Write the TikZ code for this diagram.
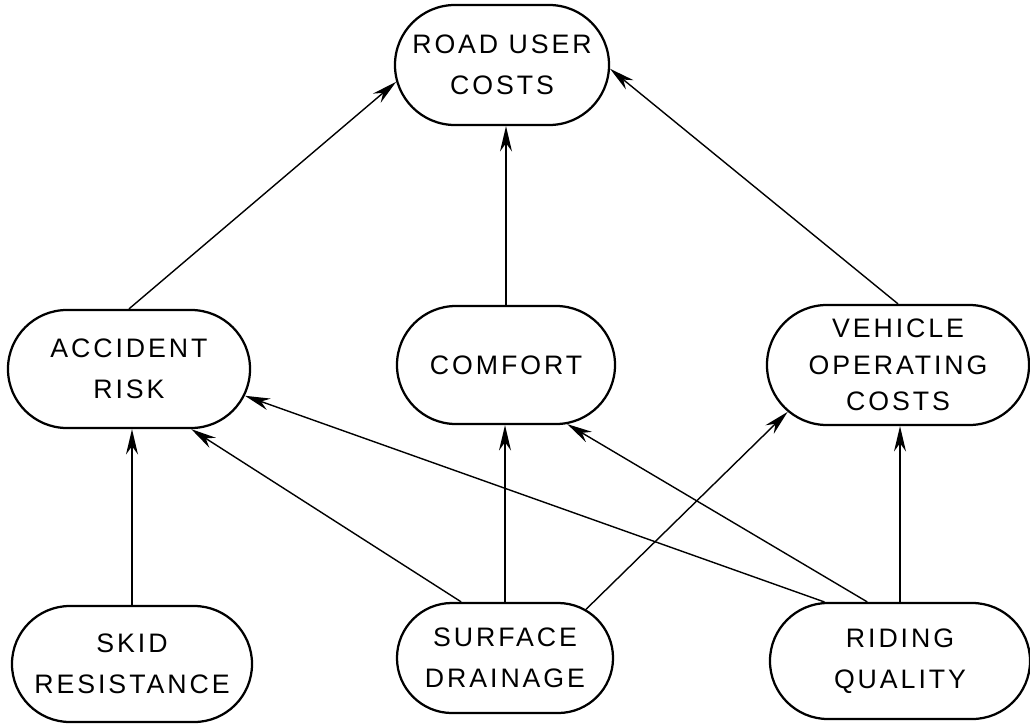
\documentclass[tikz,border=0pt]{standalone}
\usepackage{fontspec}
\newfontfamily\lettering[LetterSpace=11]{Liberation Sans}
\usetikzlibrary{shapes.misc,arrows.meta}

\tikzset{
  box/.style={draw, rounded rectangle, line width=1.6pt, align=center,
    inner sep=0pt, font=\lettering\fontsize{19}{29}\selectfont},
  link/.style={-{Stealth[length=18pt,width=8.5pt]}, line width=1pt}
}

\begin{document}
\begin{tikzpicture}[x=0.025cm, y=-0.025cm]
                \useasboundingbox (0,0) rectangle (1030,724);
                % top
                \node [box, minimum width=5.35cm, minimum height=3cm] (cost) at (502,65) {ROAD USER\\COSTS};
                % middle row
                \node [box, minimum width=6.05cm, minimum height=2.95cm] (risk) at (129,369) {ACCIDENT\\RISK};
                \node [box, minimum width=5.45cm, minimum height=2.95cm] (comf) at (506,365) {COMFORT};
                \node [box, minimum width=6.55cm, minimum height=3cm, font=\lettering\fontsize{19}{26}\selectfont] (voc) at (898,365) {VEHICLE\\OPERATING\\COSTS};
                % bottom row
                \node [box, minimum width=6cm, minimum height=2.9cm] (skid) at (132,664) {SKID\\RESISTANCE};
                \node [box, minimum width=5.4cm, minimum height=2.75cm] (drain) at (505,658) {SURFACE\\DRAINAGE};
                \node [box, minimum width=6.5cm, minimum height=2.9cm] (ride) at (900,661) {RIDING\\QUALITY};
                % links
                \draw [link] (risk.north) -- (cost.189);
                \draw [link] (comf.north) -- (comf.north |- cost.south);
                \draw [link] (voc.north) -- (cost.-2);
                \draw [link] (skid.north) -- (skid.north |- risk.south);
                \draw [link] (drain.128) -- (risk.-44);
                \draw [link] (drain.north) -- (drain.north |- comf.south);
                \draw [link] (drain.31) -- (voc.203);
                \draw [link] (ride.142) -- (risk.-13);
                \draw [link] (ride.119) -- (comf.-44);
                \draw [link] (ride.north) -- (ride.north |- voc.south);
            \end{tikzpicture}
\end{document}
